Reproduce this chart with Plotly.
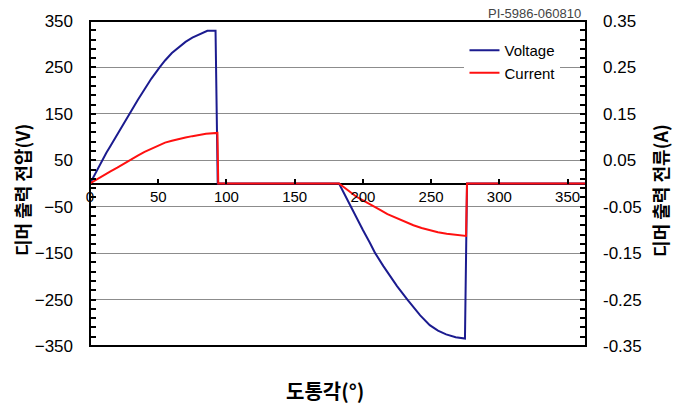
import plotly.graph_objects as go

# ---- data ----
volt_angle = [0, 3, 6, 9, 12, 15, 20, 25, 28.5, 35, 40, 45, 51, 55, 60, 65, 70, 75, 80, 84, 86, 92,
              92.8, 93.6, 182.5, 186, 190, 195, 200, 205, 209, 215, 220, 225, 232.6, 238, 242, 249,
              255, 261, 268, 274.8, 275.5, 276.3, 363.5]
volt_value = [0, 17, 34, 50, 66, 81, 106, 131, 150, 180, 203, 226, 250, 265, 281, 294, 305, 314, 321, 327, 329, 329,
              200, 0, 0, -20, -45, -73, -100, -127, -150, -178, -200, -221, -250, -270, -284, -305,
              -317, -325, -331, -334, -200, 0, 0]

curr_angle = [0, 5, 10, 15, 20, 25, 28.5, 35, 40, 45, 50, 55, 60, 65, 70, 75, 80, 85, 93.4,
              94.0, 182.5, 190.7, 195, 200.4, 206, 212.6, 218, 224.8, 231, 237, 243, 249, 255, 261.4,
              268, 275.6, 276.3, 363.5]
curr_value = [0, 0.009, 0.018, 0.026, 0.034, 0.043, 0.050, 0.060, 0.068, 0.075, 0.082, 0.088, 0.092, 0.096,
              0.099, 0.102, 0.105, 0.107, 0.109,
              0.0, 0.0, -0.018, -0.028, -0.037, -0.047, -0.057, -0.066, -0.075, -0.083, -0.090, -0.096,
              -0.101, -0.105, -0.108, -0.111, -0.113, 0.0, 0.0]

x_ticks = [0, 50, 100, 150, 200, 250, 300, 350]
v_ticks = [-350, -250, -150, -50, 50, 150, 250, 350]
a_ticks = [-0.35, -0.25, -0.15, -0.05, 0.05, 0.15, 0.25, 0.35]
a_labels = ["-0.35", "-0.25", "-0.15", "-0.05", "0.05", "0.15", "0.25", "0.35"]

BLUE = "#1b1b8f"
RED = "#ff1010"
SANS = "Liberation Sans, Arial, sans-serif"
TICKFONT = dict(family=SANS, size=17, color="black")
KFONT = dict(family="Noto Sans CJK KR, sans-serif", size=20, color="black")
KFONT_V = dict(family="Noto Sans CJK KR, sans-serif", size=18, color="black")

fig = go.Figure()
fig.add_trace(go.Scatter(x=volt_angle, y=volt_value, name="Voltage", mode="lines",
                         line=dict(color=BLUE, width=2), xaxis="x", yaxis="y"))
fig.add_trace(go.Scatter(x=curr_angle, y=curr_value, name="Current", mode="lines",
                         line=dict(color=RED, width=2), xaxis="x", yaxis="y2"))

xr = [0, 363.5]
fig.update_layout(
    width=685, height=408,
    margin=dict(l=90, r=99, t=16, b=62),
    paper_bgcolor="white", plot_bgcolor="white",
    showlegend=True,
    legend=dict(x=0.755, y=0.96, xanchor="left", yanchor="top", bgcolor="white",
                font=dict(family=SANS, size=15, color="black"),
                itemwidth=30, tracegroupgap=0),
    xaxis=dict(range=xr, anchor="free", position=0.5, tickmode="array", tickvals=x_ticks,
               ticks="inside", ticklen=5, tickwidth=1.5, tickcolor="black",
               tickfont=dict(family=SANS, size=15, color="black"),
               showgrid=False, zeroline=False, showline=False, ticklabelstandoff=2),
    xaxis2=dict(range=xr, overlaying="x", anchor="free", position=0.5, tickmode="array",
                tickvals=x_ticks, ticks="outside", ticklen=5, tickwidth=1.5, tickcolor="black",
                showticklabels=False, showgrid=False, zeroline=False, showline=False),
    yaxis=dict(range=[-350, 350], tickmode="array", tickvals=v_ticks,
               ticks="inside", ticklen=6, tickwidth=1.5, tickcolor="black",
               minor=dict(tickmode="linear", tick0=10, dtick=20, ticks="inside", ticklen=6,
                          tickwidth=1.5, tickcolor="black", showgrid=False),
               tickfont=TICKFONT, ticklabelstandoff=16,
               showgrid=True, gridcolor="#8c8c8c", gridwidth=1,
               zeroline=True, zerolinecolor="black", zerolinewidth=1.5, showline=False),
    yaxis2=dict(range=[-0.35, 0.35], overlaying="y", side="right", tickmode="array",
                tickvals=a_ticks, ticktext=a_labels,
                ticks="inside", ticklen=6, tickwidth=1.5, tickcolor="black",
                minor=dict(tickmode="linear", tick0=0.01, dtick=0.02, ticks="inside", ticklen=6,
                           tickwidth=1.5, tickcolor="black", showgrid=False),
                tickfont=TICKFONT, ticklabelstandoff=16,
                showgrid=False, zeroline=False, showline=False),
)

# plot frame
fig.add_shape(type="rect", xref="paper", yref="paper", x0=0, x1=1, y0=0, y1=1,
              line=dict(color="black", width=2), layer="above")

fig.add_annotation(text="PI-5986-060810", xref="paper", yref="paper", x=0.994, y=1.024,
                   xanchor="right", yanchor="middle", showarrow=False,
                   font=dict(family=SANS, size=13, color="#444444"))
fig.add_annotation(text="<b>디머 출력 전압(V)</b>", xref="paper", yref="paper", x=-0.137, y=0.48,
                   xanchor="center", yanchor="middle", textangle=-90, showarrow=False, font=KFONT_V)
fig.add_annotation(text="<b>디머 출력 전류(A)</b>", xref="paper", yref="paper", x=1.149, y=0.48,
                   xanchor="center", yanchor="middle", textangle=-90, showarrow=False, font=KFONT_V)
fig.add_annotation(text="<b>도통각(°)</b>", xref="paper", yref="paper", x=0.474, y=-0.136,
                   xanchor="center", yanchor="middle", showarrow=False, font=KFONT)

fig.write_html("out.html", config={"displayModeBar": False},
               post_script="document.body.style.margin='0';")
